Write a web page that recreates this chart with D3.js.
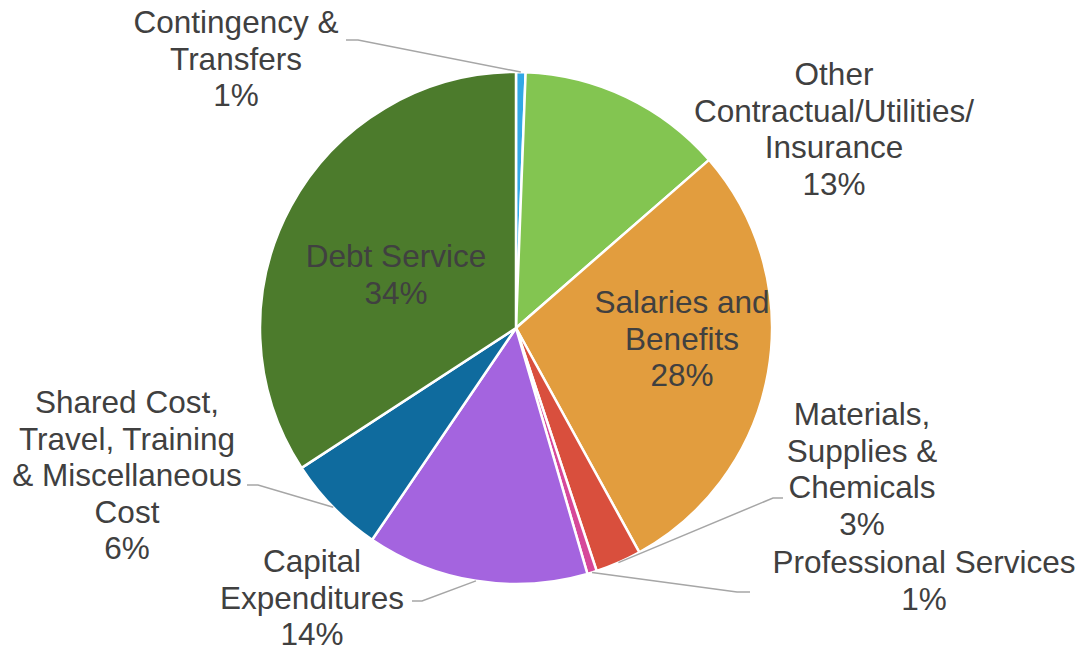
<!DOCTYPE html>
<html>
<head>
<meta charset="utf-8">
<script src="https://d3js.org/d3.v7.min.js"></script>
<style>
  body { margin: 0; background: #fff; }
  text { font-family: "Liberation Sans", Arial, sans-serif; fill: #404040; }
  .leader { fill: none; stroke: #a6a6a6; stroke-width: 1.5; }
</style>
</head>
<body>
<div id="chart"></div>
<script>
  // data (share of budget, %), clockwise from 12 o'clock
  var categories = [
    "Contingency &\nTransfers",
    "Other\nContractual/Utilities/\nInsurance",
    "Salaries and\nBenefits",
    "Materials,\nSupplies &\nChemicals",
    "Professional Services",
    "Capital\nExpenditures",
    "Shared Cost,\nTravel, Training\n& Miscellaneous\nCost",
    "Debt Service"
  ];
  var values = [0.6, 13.0, 28.4, 2.9, 0.6, 14.0, 6.3, 34.2];
  var colors = ["#31a8e6", "#83c551", "#e29d3e", "#d94f3d", "#d6489a", "#a464df", "#0f6b9e", "#4c7b2c"];

  // layout: label centre x / first baseline y, and leader elbow+end (null = label inside)
  var labelX = [236, 834, 682, 862, 924, 312, 127, 396];
  var labelY = [33, 85, 313, 425, 573, 572, 413, 267];
  var leaders = [
    [[358, 40], [346, 40]],
    null,
    null,
    [[773, 498], [783, 498]],
    [[737, 592], [750, 592]],
    [[422, 601], [412, 601]],
    [[258, 485], [247, 485]],
    null
  ];

  var W = 1089, H = 645;
  var cx = 516, cy = 328, radius = 256;
  var fontSize = 31.5, lineH = 36.6;

  var svg = d3.select("#chart").append("svg")
    .attr("width", W)
    .attr("height", H);

  var total = d3.sum(values);
  var pie = d3.pie().sort(null).value(function(d) { return d; });
  var arcs = pie(values);
  var arc = d3.arc().innerRadius(0).outerRadius(radius);

  var g = svg.append("g").attr("transform", "translate(" + cx + "," + cy + ")");

  g.selectAll("path.slice")
    .data(arcs).enter()
    .append("path")
    .attr("class", "slice")
    .attr("d", arc)
    .attr("fill", function(d, i) { return colors[i]; })
    .attr("stroke", "#fff")
    .attr("stroke-width", 2.5)
    .attr("stroke-linejoin", "round");

  // leader lines from slice edge (mid angle) to label
  arcs.forEach(function(d, i) {
    if (!leaders[i]) return;
    var a = (d.startAngle + d.endAngle) / 2;
    var p0 = [cx + radius * Math.sin(a), cy - radius * Math.cos(a)];
    svg.append("path")
      .attr("class", "leader")
      .attr("d", d3.line()([p0, leaders[i][0], leaders[i][1]]));
  });

  var pct = function(v) { return Math.round(v / total * 100) + "%"; };

  categories.forEach(function(name, i) {
    var lines = name.split("\n").concat([pct(values[i])]);
    var t = svg.append("text")
      .attr("text-anchor", "middle")
      .style("font-size", fontSize + "px");
    lines.forEach(function(s, j) {
      t.append("tspan")
        .attr("x", labelX[i])
        .attr("y", labelY[i] + j * lineH)
        .text(s);
    });
  });
</script>
</body>
</html>
